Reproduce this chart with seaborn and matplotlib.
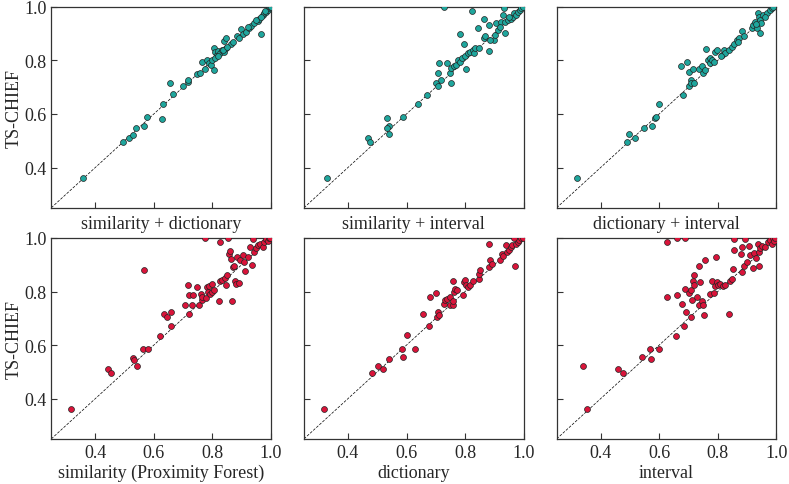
import matplotlib
matplotlib.use("Agg")
from matplotlib import pyplot as plt
import seaborn as sns

# accuracy pairs: x = ablated variant, y = TS-CHIEF
sim_dict_x = [0.358, 0.494, 0.515, 0.529, 0.538, 0.566, 0.578, 0.628, 0.633, 0.655, 0.667, 0.698,
              0.715, 0.717, 0.749, 0.758, 0.766, 0.774, 0.783, 0.789, 0.795, 0.804, 0.806, 0.81,
              0.815, 0.82, 0.826, 0.832, 0.838, 0.846, 0.84, 0.846, 0.863, 0.884, 0.897, 0.903,
              0.914, 0.926, 0.931, 0.943, 0.954, 0.96, 0.966, 0.971, 0.977, 0.983, 0.989, 0.994,
              0.998, 0.80, 0.81, 0.82, 0.835, 0.85, 0.87, 0.89, 0.92, 0.95, 0.965, 0.98, 1.0]
sim_dict_y = [0.362, 0.496, 0.509, 0.521, 0.546, 0.556, 0.587, 0.583, 0.636, 0.716, 0.673, 0.705,
              0.720, 0.726, 0.750, 0.752, 0.795, 0.767, 0.801, 0.789, 0.782, 0.764, 0.845, 0.83,
              0.82, 0.835, 0.826, 0.838, 0.832, 0.845, 0.872, 0.882, 0.861, 0.892, 0.917, 0.897,
              0.907, 0.919, 0.929, 0.938, 0.947, 0.956, 0.90, 0.969, 0.975, 0.981, 0.988, 0.994,
              0.998, 0.80, 0.81, 0.815, 0.84, 0.85, 0.87, 0.885, 0.925, 0.95, 0.96, 0.985, 1.0]

sim_int_x = [0.328, 0.467, 0.475, 0.532, 0.539, 0.535, 0.541, 0.587, 0.638, 0.669, 0.701, 0.707,
             0.709, 0.712, 0.718, 0.739, 0.747, 0.752, 0.752, 0.761, 0.769, 0.775, 0.781, 0.784,
             0.789, 0.795, 0.804, 0.801, 0.809, 0.818, 0.826, 0.832, 0.834, 0.843, 0.849, 0.864,
             0.866, 0.868, 0.883, 0.883, 0.898, 0.903, 0.906, 0.912, 0.924, 0.929, 0.935, 0.935,
             0.946, 0.958, 0.963, 0.968, 0.974, 0.98, 0.986, 0.992, 0.932, 0.729, 0.823, 0.998,
             0.884, 0.92, 0.95]
sim_int_y = [0.362, 0.511, 0.496, 0.586, 0.556, 0.546, 0.524, 0.588, 0.636, 0.670, 0.716, 0.754,
             0.705, 0.789, 0.726, 0.791, 0.751, 0.716, 0.770, 0.780, 0.782, 0.803, 0.898, 0.794,
             0.807, 0.862, 0.766, 0.817, 0.828, 0.832, 0.838, 0.826, 0.845, 0.922, 0.845, 0.882,
             0.954, 0.892, 0.932, 0.836, 0.876, 0.894, 0.938, 0.913, 0.944, 0.969, 0.901, 0.944,
             0.950, 0.954, 0.963, 0.975, 0.969, 0.981, 0.988, 0.994, 0.994, 1.0, 0.984, 0.998,
             0.877, 0.925, 0.96]

dict_int_x = [0.321, 0.489, 0.497, 0.518, 0.548, 0.575, 0.585, 0.588, 0.599, 0.682, 0.675, 0.694,
              0.702, 0.707, 0.71, 0.719, 0.702, 0.716, 0.736, 0.747, 0.75, 0.758, 0.761, 0.766,
              0.772, 0.775, 0.781, 0.787, 0.79, 0.798, 0.815, 0.82, 0.826, 0.838, 0.849, 0.855,
              0.864, 0.872, 0.883, 0.891, 0.917, 0.92, 0.934, 0.943, 0.936, 0.928, 0.939, 0.945,
              0.956, 0.968, 0.977, 0.985, 0.99, 0.947, 0.932, 0.81, 0.87, 0.96]
dict_int_y = [0.362, 0.496, 0.524, 0.511, 0.546, 0.556, 0.586, 0.590, 0.636, 0.670, 0.779, 0.795,
              0.705, 0.726, 0.716, 0.714, 0.755, 0.767, 0.767, 0.780, 0.751, 0.764, 0.841, 0.801,
              0.789, 0.810, 0.801, 0.795, 0.832, 0.838, 0.820, 0.838, 0.826, 0.838, 0.848, 0.861,
              0.876, 0.884, 0.909, 0.892, 0.919, 0.932, 0.922, 0.901, 0.975, 0.944, 0.963, 0.950,
              0.969, 0.975, 0.988, 0.994, 0.998, 0.941, 0.934, 0.815, 0.87, 0.962]

sim_x = [0.318, 0.443, 0.455, 0.53, 0.532, 0.541, 0.564, 0.568, 0.58, 0.62, 0.635, 0.644,
         0.66, 0.66, 0.707, 0.717, 0.72, 0.72, 0.735, 0.732, 0.747, 0.755, 0.76, 0.763,
         0.766, 0.774, 0.777, 0.781, 0.786, 0.789, 0.792, 0.797, 0.80, 0.806, 0.823, 0.825,
         0.826, 0.834, 0.842, 0.846, 0.849, 0.852, 0.857, 0.861, 0.863, 0.867, 0.869, 0.874,
         0.876, 0.879, 0.885, 0.89, 0.894, 0.903, 0.909, 0.911, 0.92, 0.929, 0.934, 0.937,
         0.941, 0.949, 0.957, 0.964, 0.972, 0.977, 0.983, 0.989, 0.994, 0.998]
sim_y = [0.360, 0.509, 0.495, 0.551, 0.543, 0.522, 0.586, 0.882, 0.584, 0.634, 0.717, 0.704,
         0.723, 0.671, 0.751, 0.826, 0.717, 0.786, 0.788, 0.749, 0.817, 0.751, 0.792, 0.767,
         0.780, 1.0, 0.777, 0.817, 0.80, 0.821, 0.792, 0.798, 0.829, 0.807, 0.763, 0.838,
         0.983, 0.842, 0.85, 0.826, 0.86, 1.0, 0.941, 0.95, 0.92, 0.763, 0.892, 0.896,
         0.838, 0.829, 0.929, 0.833, 0.916, 0.938, 0.91, 0.875, 0.929, 0.966, 0.898, 0.995,
         0.947, 0.963, 0.975, 0.979, 0.966, 0.985, 0.995, 0.988, 0.998, 1.0]

dict_x = [0.318, 0.481, 0.503, 0.521, 0.541, 0.584, 0.589, 0.60, 0.629, 0.655, 0.678, 0.681,
          0.70, 0.703, 0.707, 0.712, 0.727, 0.73, 0.739, 0.75, 0.75, 0.758, 0.758, 0.76,
          0.761, 0.766, 0.772, 0.792, 0.796, 0.80, 0.804, 0.809, 0.818, 0.826, 0.846, 0.849,
          0.852, 0.88, 0.883, 0.886, 0.892, 0.92, 0.926, 0.93, 0.939, 0.942, 0.95, 0.956,
          0.961, 0.971, 0.973, 0.979, 0.984, 0.99, 0.996, 0.967]
dict_y = [0.360, 0.495, 0.522, 0.509, 0.547, 0.587, 0.555, 0.636, 0.584, 0.715, 0.671, 0.780,
          0.795, 0.705, 0.723, 0.713, 0.755, 0.767, 0.771, 0.780, 0.751, 0.840, 0.751, 0.763,
          0.798, 0.808, 0.807, 0.786, 0.834, 0.842, 0.826, 0.817, 0.826, 0.838, 0.845, 0.866,
          0.879, 0.979, 0.891, 0.916, 0.904, 0.916, 0.941, 0.933, 0.973, 0.947, 0.953, 0.966,
          0.973, 0.896, 0.979, 0.985, 0.991, 0.998, 1.0, 0.998]

int_x = [0.339, 0.353, 0.458, 0.478, 0.543, 0.569, 0.573, 0.599, 0.628, 0.656, 0.662, 0.662,
         0.688, 0.628, 0.679, 0.685, 0.687, 0.69, 0.702, 0.707, 0.71, 0.713, 0.716, 0.719,
         0.719, 0.73, 0.736, 0.736, 0.739, 0.747, 0.75, 0.753, 0.755, 0.773, 0.779, 0.787,
         0.79, 0.795, 0.796, 0.801, 0.809, 0.818, 0.823, 0.838, 0.841, 0.849, 0.852, 0.855,
         0.855, 0.883, 0.88, 0.883, 0.889, 0.892, 0.90, 0.908, 0.911, 0.92, 0.923, 0.929,
         0.937, 0.94, 0.942, 0.943, 0.951, 0.962, 0.97, 0.977, 0.985, 0.989, 0.993, 0.997]
int_y = [0.522, 0.360, 0.509, 0.495, 0.555, 0.584, 0.547, 0.586, 0.983, 0.634, 0.998, 0.786,
         0.998, 0.78, 0.752, 0.67, 0.808, 0.723, 0.796, 0.705, 0.804, 0.767, 0.838, 0.86,
         0.826, 0.78, 0.895, 0.751, 0.834, 0.763, 0.751, 0.713, 0.919, 0.79, 0.839, 0.796,
         0.821, 0.929, 0.834, 0.826, 0.829, 0.821, 0.826, 0.715, 0.839, 0.845, 0.883, 0.995,
         0.954, 0.873, 0.941, 0.966, 0.895, 0.995, 0.91, 0.97, 0.935, 0.888, 0.944, 0.925,
         0.979, 0.947, 0.897, 0.963, 0.97, 0.966, 0.983, 0.991, 0.979, 0.998, 0.988, 1.0]

panels = [
    (sim_dict_x, sim_dict_y, "similarity + dictionary"),
    (sim_int_x, sim_int_y, "similarity + interval"),
    (dict_int_x, dict_int_y, "dictionary + interval"),
    (sim_x, sim_y, "similarity (Proximity Forest)"),
    (dict_x, dict_y, "dictionary"),
    (int_x, int_y, "interval"),
]
ROW_COLORS = ["#1fa69d", "#d9143a"]
LIMS = (0.25, 1.0)
TICKS = [0.4, 0.6, 0.8, 1.0]

sns.set_style("ticks")
plt.rcParams["font.family"] = ["Liberation Serif", "DejaVu Serif"]
plt.rcParams["font.size"] = 13

fig, axes = plt.subplots(2, 3, figsize=(7.89, 4.85), dpi=100)
fig.subplots_adjust(left=0.065, right=0.984, top=0.984, bottom=0.093, wspace=0.15, hspace=0.15)

for idx, (xs, ys, label) in enumerate(panels):
    row, col = divmod(idx, 3)
    ax = axes[row, col]
    ax.plot(LIMS, LIMS, color="black", linestyle=(0, (4, 2)), linewidth=0.5, zorder=1)
    sns.scatterplot(x=xs, y=ys, ax=ax, color=ROW_COLORS[row], s=18,
                    edgecolor="#222222", linewidth=0.5, zorder=3, clip_on=True)
    ax.set_xlim(*LIMS)
    ax.set_ylim(*LIMS)
    ax.set_xticks(TICKS)
    ax.set_yticks(TICKS)
    ax.tick_params(direction="in", length=4, width=0.8, labelsize=13, color="#333333",
                   top=False, right=False)
    ax.set_xlabel(label, fontsize=13, labelpad=2)
    if col == 0:
        ax.set_ylabel("TS-CHIEF", fontsize=13, labelpad=1)
        ax.set_yticklabels(["0.4", "0.6", "0.8", "1.0"])
    else:
        ax.set_yticklabels([])
    if row == 0:
        ax.set_xticklabels([])
    else:
        ax.set_xticklabels(["0.4", "0.6", "0.8", "1.0"])
    for spine in ax.spines.values():
        spine.set_color("#333333")
        spine.set_linewidth(0.9)

fig.savefig("out.png", dpi=100)
